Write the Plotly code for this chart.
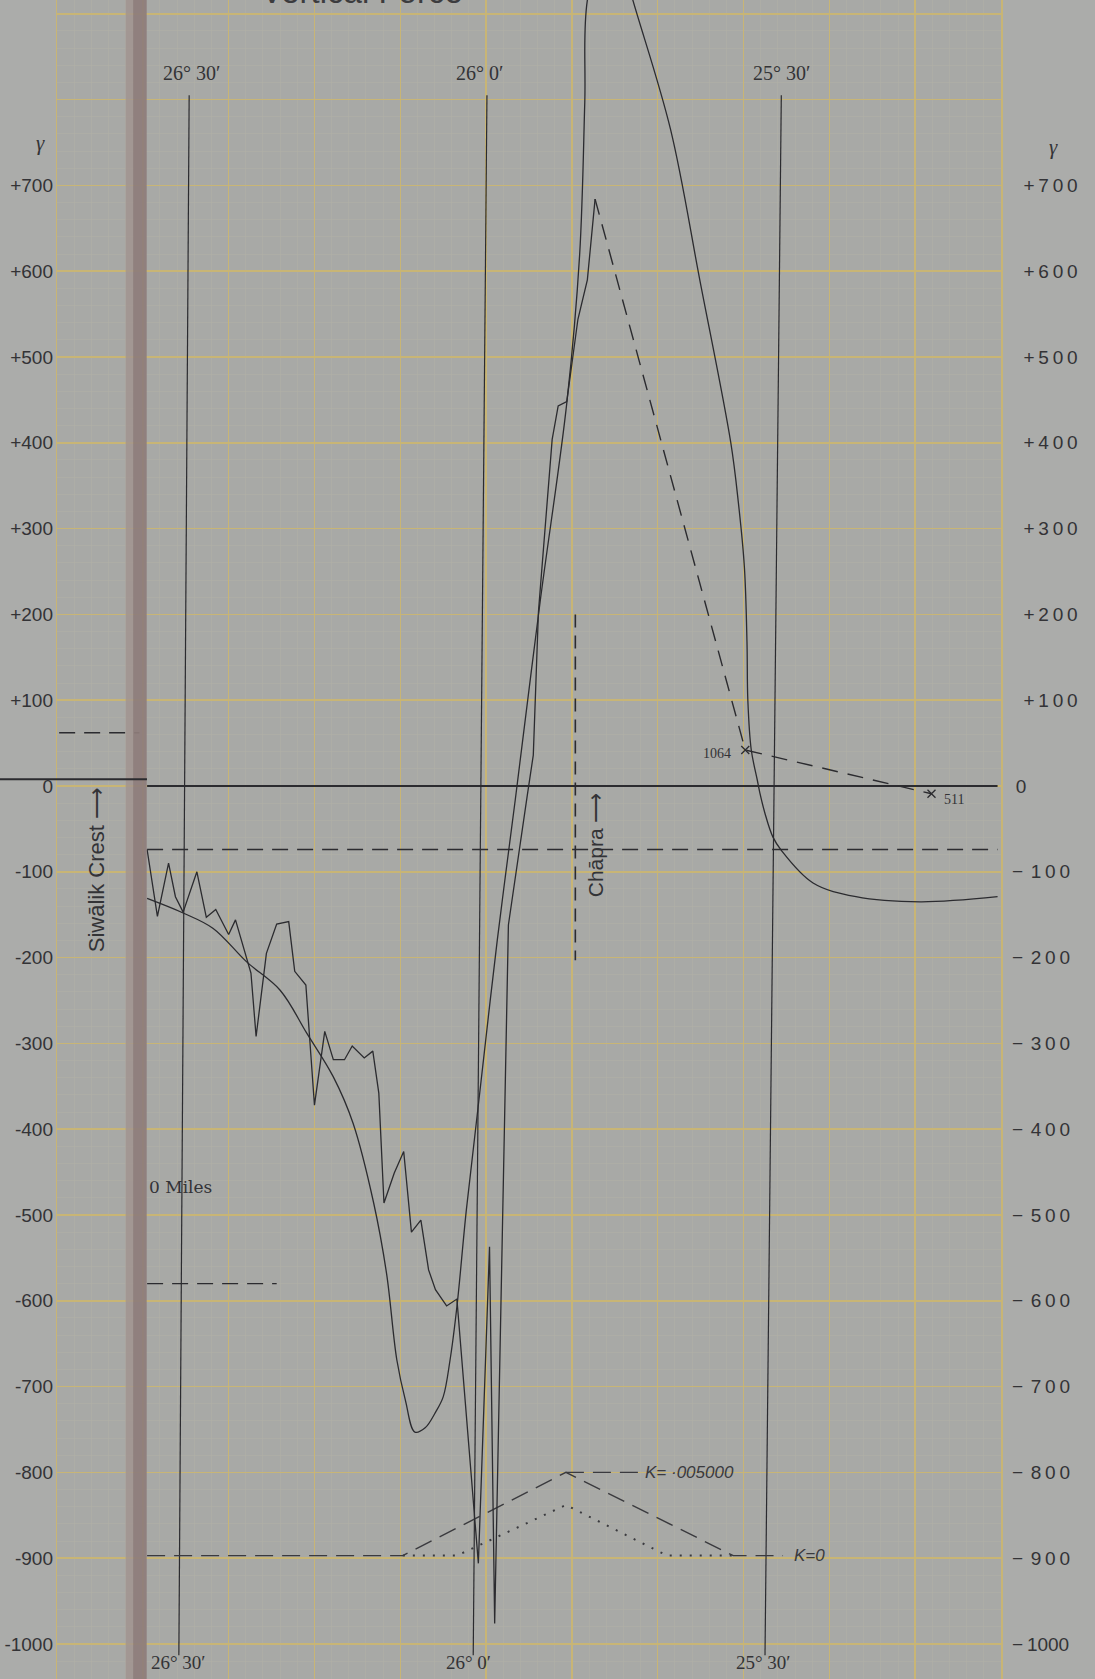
import plotly.graph_objects as go

# ---------------- data (x = miles along the profile, y = vertical force, gamma) ----------------
OBS_X = [0.0, 1.2, 2.5, 3.3, 4.2, 5.8, 6.9, 8.0, 9.5, 10.3, 12.1, 12.7, 13.9, 15.1, 16.5,
         17.2, 18.5, 19.5, 20.7, 21.7, 23.0, 23.9, 25.3, 26.3, 27.0, 27.6, 28.8, 29.9, 30.8,
         31.9, 32.8, 33.6, 34.9, 36.1, 38.6, 39.9, 40.5, 42.1, 44.3, 45.0, 45.6, 47.2, 47.9,
         48.9, 50.2, 51.3, 52.2]
OBS_Y = [-74, -152, -90, -129, -147, -100, -153, -144, -173, -156, -218, -292, -195, -161, -158,
         -216, -232, -372, -286, -319, -319, -303, -317, -309, -358, -486, -451, -426, -520,
         -506, -564, -587, -606, -598, -906, -537, -976, -162, -11, 36, 203, 404, 443,
         448, 544, 590, 684]

OBS_EXT_X = [52.2, 69.7, 91.4]
OBS_EXT_Y = [684, 42, -9]
STATION_X = [69.7, 91.4]
STATION_Y = [42, -9]
STATION_LABELS = ["1064", "511"]

CALC_X = [0.0, 4.2, 7.7, 11.6, 15.5, 18.6, 21.7, 24.0, 26.4, 27.9, 29.1, 30.1, 31.2, 32.4, 33.6,
          34.5, 35.3, 36.1, 37.2, 38.8, 40.8, 42.9, 45.8, 48.9, 50.4, 51.0, 51.3, 53.9, 56.6,
          61.0, 64.4, 68.0, 68.9, 69.6, 69.9, 70.0, 70.4, 71.1, 71.4, 72.0, 72.9, 73.9, 77.6,
          82.6, 90.1, 99.1]
CALC_Y = [-131, -148, -166, -205, -238, -288, -339, -393, -486, -568, -669, -716, -753, -748, -730,
          -712, -669, -607, -494, -354, -180, -16, 215, 446, 619, 797, 916, 1010, 916,
          765, 590, 401, 330, 255, 168, 100, 42, 7, -8, -32, -59, -75, -113,
          -129, -135, -129]

K_DASH_X = [0.0, 29.8, 48.8, 68.3, 74.1]
K_DASH_Y = [-897, -897, -800, -897, -897]
K_PEAK_LEADER_X = [48.8, 57.4]
K_PEAK_LEADER_Y = [-800, -800]
K_DOT_X = [29.8, 36.1, 48.8, 60.6, 68.3]
K_DOT_Y = [-897, -897, -838, -897, -897]
K_LABELS = ["K= ·005000", "K=0"]

BASE_X = [0.0, 99.1]          # zero line and reference dashed level
REF_LEVEL = -74
LEFT_LEVEL_X = [-10.25, -0.9]
LEFT_LEVEL = 62
LOW_LEVEL_X = [0.0, 15.1]
LOW_LEVEL = -580
CHAPRA_X = 49.9
CHAPRA_Y = [200, -203]

LAT_LABELS = ["26° 30′", "26° 0′", "25° 30′"]
LAT_TOP_X = [4.9, 39.6, 73.9]
LAT_BOT_X = [3.7, 38.0, 72.0]
LAT_Y = [805, -1013]
LAT_LABEL_TOP_X = [5.2, 38.7, 73.9]
LAT_LABEL_BOT_X = [3.6, 37.4, 71.8]

Y_TICKS = list(range(700, -1001, -100))
LEFT_TEXT = [("+%d" % v if v > 0 else ("0" if v == 0 else "-%d" % -v)) for v in Y_TICKS]
TS = "\u2009"


def right_label(v):
    if v > 0:
        return TS * 3 + "+" + TS + TS.join(str(v))
    if v == 0:
        return TS + "0"
    if v <= -1000:
        return "\u2212" + TS + str(-v)
    return "\u2212" + TS * 2 + TS.join(str(-v))


RIGHT_TEXT = [right_label(v) for v in Y_TICKS]

Y_RANGE = [-1040.8, 916.1]
X_RANGE = [-10.5, 99.5]

# ---------------- styles ----------------
DARK = "#2b2b2f"
GRID_MAJOR = "#c8b575"
GRID_MINOR = "#afafa7"
DASH = "16px,9px"
SANS = "Liberation Sans, Arial, sans-serif"
SERIF = "Liberation Serif, Times New Roman, serif"


def lines(x, y, dash="solid", width=1.3, shape="linear", color=DARK):
    return go.Scatter(x=x, y=y, mode="lines", hoverinfo="skip", showlegend=False,
                      line=dict(color=color, width=width, dash=dash, shape=shape))


fig = go.Figure()

# reference levels
fig.add_trace(lines(BASE_X, [0, 0], width=2.0))
fig.add_trace(lines(BASE_X, [REF_LEVEL, REF_LEVEL], dash=DASH, width=1.4))
fig.add_trace(lines(LEFT_LEVEL_X, [LEFT_LEVEL, LEFT_LEVEL], dash=DASH, width=1.4))
fig.add_trace(lines(LOW_LEVEL_X, [LOW_LEVEL, LOW_LEVEL], dash=DASH, width=1.4))
fig.add_trace(lines([CHAPRA_X, CHAPRA_X], CHAPRA_Y, dash="13px,8px", width=1.6))

# latitude lines
lx, ly = [], []
for t, b in zip(LAT_TOP_X, LAT_BOT_X):
    lx += [t, b, None]
    ly += [LAT_Y[0], LAT_Y[1], None]
fig.add_trace(lines(lx, ly, width=1.2))

# K curves
fig.add_trace(lines(K_DASH_X, K_DASH_Y, dash="18px,9px", width=1.4, color="#3a3a3e"))
fig.add_trace(lines(K_PEAK_LEADER_X, K_PEAK_LEADER_Y, dash="18px,9px", width=1.4, color="#3a3a3e"))
fig.add_trace(lines(K_DOT_X, K_DOT_Y, dash="2px,8px", width=2.0, color="#3a3a3e"))

# calculated (smooth) and observed curves
fig.add_trace(lines(CALC_X, CALC_Y, width=1.3, shape="spline"))
fig.add_trace(lines(OBS_X, OBS_Y, width=1.3))
fig.add_trace(lines(OBS_EXT_X, OBS_EXT_Y, dash="16px,10px", width=1.4))
fig.add_trace(go.Scatter(x=STATION_X, y=STATION_Y, mode="markers", hoverinfo="skip", showlegend=False,
                         marker=dict(symbol="x-thin", size=8, line=dict(width=1.3, color=DARK))))

# dummy traces for the label axes
fig.add_trace(go.Scatter(x=[None], y=[None], yaxis="y2", showlegend=False, hoverinfo="skip"))
fig.add_trace(go.Scatter(x=[None], y=[None], yaxis="y3", showlegend=False, hoverinfo="skip"))

TXT = "#333336"
ann = []
# title (cut off at the top of the sheet, as in the original)
ann.append(dict(text="Vertical Force", xref="paper", yref="paper", x=0.323, y=1 - 12 / 1679,
                xanchor="center", yanchor="bottom", showarrow=False,
                font=dict(family=SANS, size=33, color="#3c3c3e")))
# gamma unit symbols
ann.append(dict(text="<i>γ</i>", xref="paper", yref="y", x=-0.017, y=750, showarrow=False,
                xanchor="center", yanchor="middle", font=dict(family=SERIF, size=21, color=TXT)))
ann.append(dict(text="<i>γ</i>", xref="paper", yref="y", x=1.0551, y=745, showarrow=False,
                xanchor="center", yanchor="middle", font=dict(family=SERIF, size=21, color=TXT)))
# latitude labels
for lab, xt, xb in zip(LAT_LABELS, LAT_LABEL_TOP_X, LAT_LABEL_BOT_X):
    ann.append(dict(text=lab, x=xt, y=831, xref="x", yref="y", showarrow=False,
                    xanchor="center", yanchor="middle", font=dict(family=SERIF, size=20, color=TXT)))
    ann.append(dict(text=lab, x=xb, y=-1021, xref="x", yref="y", showarrow=False,
                    xanchor="center", yanchor="middle", font=dict(family=SERIF, size=19, color=TXT)))
# station labels
ann.append(dict(text=STATION_LABELS[0], x=68.3, y=38, xref="x", yref="y", showarrow=False,
                xanchor="right", yanchor="middle", font=dict(family=SERIF, size=14, color=TXT)))
ann.append(dict(text=STATION_LABELS[1], x=92.6, y=-16, xref="x", yref="y", showarrow=False,
                xanchor="left", yanchor="middle", font=dict(family=SERIF, size=14, color=TXT)))
# K labels
ann.append(dict(text="<i>" + K_LABELS[0] + "</i>", x=57.8, y=-800, xref="x", yref="y", showarrow=False,
                xanchor="left", yanchor="middle", font=dict(family=SANS, size=17, color="#3a3a3e")))
ann.append(dict(text="<i>" + K_LABELS[1] + "</i>", x=75.2, y=-897, xref="x", yref="y", showarrow=False,
                xanchor="left", yanchor="middle", font=dict(family=SANS, size=17, color="#3a3a3e")))
# scale note
ann.append(dict(text="0 Miles", x=0.0, y=-467, xref="x", yref="y", showarrow=False,
                xanchor="left", yanchor="middle", font=dict(family="DejaVu Serif, serif", size=17, color=TXT)))
# place names
ann.append(dict(text="Siwālik Crest ⟶", x=-5.94, y=-98, xref="x", yref="y", showarrow=False,
                textangle=-90, xanchor="center", yanchor="middle",
                font=dict(family=SANS, size=22, color=TXT)))
ann.append(dict(text="Chāpra ⟶", x=52.2, y=-69, xref="x", yref="y", showarrow=False,
                textangle=-90, xanchor="center", yanchor="middle",
                font=dict(family=SANS, size=21, color=TXT)))

shapes = [
    dict(type="rect", xref="x", yref="paper", x0=-2.5, x1=-1.63, y0=0, y1=1,
         fillcolor="#a0928f", line=dict(width=0), layer="above", opacity=0.8),
    dict(type="rect", xref="x", yref="paper", x0=-1.63, x1=-0.05, y0=0, y1=1,
         fillcolor="#8e7d7b", line=dict(width=0), layer="above", opacity=0.93),
    dict(type="line", xref="paper", yref="y", x0=-0.0604, x1=0.0953, y0=8, y1=8,
         line=dict(color=DARK, width=2.0), layer="above"),
]

fig.update_layout(
    width=1095, height=1679, template="none",
    margin=dict(l=57, r=94, t=0, b=0, pad=0),
    paper_bgcolor="#abacaa", plot_bgcolor="#a8a9a6",
    showlegend=False, hovermode=False,
    annotations=ann, shapes=shapes,
    xaxis=dict(range=X_RANGE, tickmode="linear", tick0=-0.5, dtick=10, showgrid=True,
               gridcolor=GRID_MAJOR, gridwidth=1.5, showticklabels=False, ticks="",
               zeroline=False, showline=False, automargin=False, fixedrange=True,
               minor=dict(tickmode="linear", tick0=-0.5, dtick=2, showgrid=True,
                          gridcolor=GRID_MINOR, gridwidth=0.7, ticks="")),
    yaxis=dict(range=Y_RANGE, tickmode="linear", tick0=0, dtick=100, showgrid=True,
               gridcolor=GRID_MAJOR, gridwidth=1.5, showticklabels=False, ticks="",
               zeroline=False, showline=True, mirror=True, linecolor=GRID_MAJOR, linewidth=1.5,
               automargin=False, fixedrange=True,
               minor=dict(tickmode="linear", tick0=0, dtick=20, showgrid=True,
                          gridcolor=GRID_MINOR, gridwidth=0.7, ticks="")),
    yaxis2=dict(overlaying="y", side="left", range=Y_RANGE, tickmode="array",
                tickvals=Y_TICKS, ticktext=LEFT_TEXT, showgrid=False, zeroline=False,
                showline=False, ticks="", ticklabelstandoff=3, automargin=False, fixedrange=True,
                tickfont=dict(family=SANS, size=19, color=TXT)),
    yaxis3=dict(overlaying="y", side="right", range=Y_RANGE, tickmode="array",
                tickvals=Y_TICKS, ticktext=RIGHT_TEXT, showgrid=False, zeroline=False,
                showline=False, ticks="", ticklabelstandoff=10, automargin=False, fixedrange=True,
                tickfont=dict(family=SANS, size=19, color=TXT)),
)

fig.write_html(
    "out.html",
    config={"displayModeBar": False, "staticPlot": True},
    post_script="document.body.style.margin='0';document.body.style.background='#abacaa';",
)
